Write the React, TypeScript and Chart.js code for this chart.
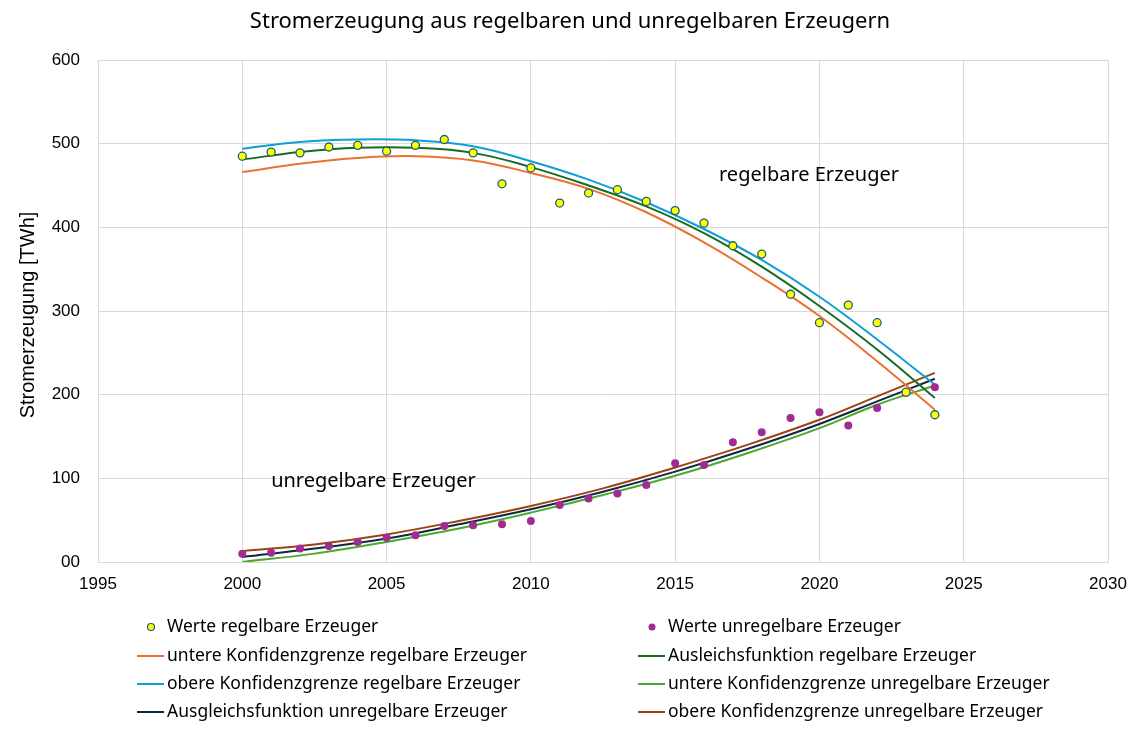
import React, { useEffect, useRef } from "react";
import { Chart, registerables } from "chart.js";

Chart.register(...registerables);

// ---- data ----
const years = [2000, 2001, 2002, 2003, 2004, 2005, 2006, 2007, 2008, 2009, 2010, 2011, 2012, 2013, 2014, 2015, 2016, 2017, 2018, 2019, 2020, 2021, 2022, 2023, 2024];
const werteRegelbar = [485, 490, 489, 496, 498, 491, 498, 505, 489, 452, 471, 429, 441, 445, 431, 420, 405, 378, 368, 320, 286, 307, 286, 203, 176];
const werteUnregelbar = [10, 11, 16, 19, 24, 29, 32, 43, 44, 45, 49, 68, 76, 82, 92, 118, 116, 143, 155, 172, 179, 163, 184, 202, 209];

const fitYearsRegel = [2000, 2002, 2004, 2006, 2008, 2010, 2012, 2014, 2016, 2018, 2020, 2022, 2024];
const untereRegel = [466, 476, 483, 485, 480, 465, 446, 418, 382, 340, 294, 240, 182];
const ausgleichRegel = [481, 490, 495, 495, 489, 472, 450, 425, 393, 353, 306, 254, 196];
const obereRegel = [494, 502, 505, 504, 497, 479, 457, 430, 398, 361, 317, 266, 212];

const fitYearsUnregel = [2000, 2002.5, 2005, 2007.5, 2010, 2012.5, 2015, 2017.5, 2020, 2022, 2024];
const untereUnregel = [0, 10, 24, 40, 59, 80, 103, 130, 160, 188, 211];
const ausgleichUnregel = [6, 16, 28, 45, 63, 84, 108, 135, 165, 192, 219];
const obereUnregel = [13, 21, 33, 49, 67, 88, 113, 140, 170, 198, 226];

const xTickValues = [1995, 2000, 2005, 2010, 2015, 2020, 2025, 2030];
const yTickLabels = ["00", "100", "200", "300", "400", "500", "600"];

const titleText = "Stromerzeugung aus regelbaren und unregelbaren Erzeugern";
const yAxisTitle = "Stromerzeugung [TWh]";
const annotations = [
  { text: "regelbare Erzeuger", x: 2016.52, y: 462 },
  { text: "unregelbare Erzeuger", x: 2001.0, y: 96 },
];

const labelFont = '"Noto Sans", sans-serif';
const axisFont = '"Liberation Sans", Arial, sans-serif';

const toXY = (xs: number[], ys: number[]) => xs.map((x, i) => ({ x, y: ys[i] }));

const overlayPlugin = {
  id: "overlay",
  afterDraw(chart: any) {
    const ctx = chart.ctx as CanvasRenderingContext2D;
    const xs = chart.scales.x;
    const ys = chart.scales.y;
    ctx.save();
    // title
    ctx.fillStyle = "#000";
    ctx.font = `22px ${labelFont}`;
    ctx.textAlign = "center";
    ctx.textBaseline = "middle";
    ctx.fillText(titleText, 570, 22);
    // y axis title
    ctx.save();
    ctx.translate(28, 315);
    ctx.rotate(-Math.PI / 2);
    ctx.font = `20px ${axisFont}`;
    ctx.fillStyle = "#000";
    ctx.fillText(yAxisTitle, 0, 0);
    ctx.restore();
    // annotations
    ctx.font = `20px ${labelFont}`;
    ctx.textAlign = "left";
    ctx.fillStyle = "#000";
    for (const a of annotations) {
      ctx.fillText(a.text, xs.getPixelForValue(a.x), ys.getPixelForValue(a.y));
    }
    // legend: 2 columns, row-major
    const rowsY = [627, 656, 684, 712];
    const colX = [151, 652];
    ctx.font = `17.5px ${labelFont}`;
    chart.data.datasets.forEach((ds: any, i: number) => {
      const col = i % 2;
      const row = Math.floor(i / 2);
      const cx = colX[col];
      const cy = rowsY[row];
      if (ds.showLine) {
        ctx.strokeStyle = ds.borderColor;
        ctx.lineWidth = 2;
        ctx.beginPath();
        ctx.moveTo(cx - 14, cy);
        ctx.lineTo(cx + 13, cy);
        ctx.stroke();
      } else {
        ctx.beginPath();
        ctx.arc(cx, cy, 3.5, 0, Math.PI * 2);
        ctx.fillStyle = ds.backgroundColor;
        ctx.fill();
        if (ds.borderWidth > 0) {
          ctx.lineWidth = 1.2;
          ctx.strokeStyle = ds.borderColor;
          ctx.stroke();
        }
      }
      ctx.fillStyle = "#000";
      ctx.textAlign = "left";
      ctx.textBaseline = "middle";
      ctx.fillText(ds.label, cx + 16, cy);
    });
    ctx.restore();
  },
};

export default function App() {
  const ref = useRef<HTMLCanvasElement | null>(null);
  useEffect(() => {
    document.body.style.margin = "0";
    if (!ref.current) return;
    const lineDs = (label: string, xs: number[], ys: number[], color: string) => ({
      type: "scatter" as const,
      label,
      data: toXY(xs, ys),
      showLine: true,
      borderColor: color,
      backgroundColor: color,
      borderWidth: 2,
      pointRadius: 0,
      pointHoverRadius: 0,
      tension: 0.4,
    });
    const chart = new Chart(ref.current, {
      type: "scatter",
      data: {
        datasets: [
          {
            label: "Werte regelbare Erzeuger",
            data: toXY(years, werteRegelbar),
            showLine: false,
            backgroundColor: "#FFFF00",
            borderColor: "#156082",
            borderWidth: 1.3,
            pointRadius: 4,
            order: 0,
          },
          {
            label: "Werte unregelbare Erzeuger",
            data: toXY(years, werteUnregelbar),
            showLine: false,
            backgroundColor: "#A02B93",
            borderColor: "#A02B93",
            borderWidth: 0,
            pointRadius: 4,
            order: 0,
          },
          { ...lineDs("untere Konfidenzgrenze regelbare Erzeuger", fitYearsRegel, untereRegel, "#E97132"), order: 1 },
          { ...lineDs("Ausleichsfunktion regelbare Erzeuger", fitYearsRegel, ausgleichRegel, "#196B24"), order: 1 },
          { ...lineDs("obere Konfidenzgrenze regelbare Erzeuger", fitYearsRegel, obereRegel, "#0F9ED5"), order: 1 },
          { ...lineDs("untere Konfidenzgrenze unregelbare Erzeuger", fitYearsUnregel, untereUnregel, "#4EA72E"), order: 1 },
          { ...lineDs("Ausgleichsfunktion unregelbare Erzeuger", fitYearsUnregel, ausgleichUnregel, "#0E2841"), order: 1 },
          { ...lineDs("obere Konfidenzgrenze unregelbare Erzeuger", fitYearsUnregel, obereUnregel, "#9C4213"), order: 1 },
        ] as any,
      },
      options: {
        animation: false,
        responsive: false,
        devicePixelRatio: 1,
        layout: { padding: { left: 0, right: 32, top: 60, bottom: 138 } },
        plugins: {
          legend: { display: false },
          tooltip: { enabled: false },
          title: { display: false },
        },
        scales: {
          x: {
            type: "linear",
            min: 1995,
            max: 2030,
            afterBuildTicks: (axis: any) => {
              axis.ticks = xTickValues.map((v) => ({ value: v }));
            },
            afterFit: (axis: any) => {
              axis.height = 40;
            },
            ticks: {
              padding: 12,
              color: "#000",
              font: { family: axisFont, size: 17 },
              callback: (v: any) => String(v),
            },
            grid: { color: "#D9D9D9", drawTicks: false, lineWidth: 1 },
            border: { color: "#D9D9D9" },
          },
          y: {
            type: "linear",
            min: 0,
            max: 600,
            afterBuildTicks: (axis: any) => {
              axis.ticks = yTickLabels.map((_, i) => ({ value: i * 100 }));
            },
            afterFit: (axis: any) => {
              axis.width = 98;
            },
            ticks: {
              padding: 18,
              color: "#000",
              font: { family: axisFont, size: 17 },
              callback: (v: any) => yTickLabels[Math.round(Number(v) / 100)],
            },
            grid: { color: "#D9D9D9", drawTicks: false, lineWidth: 1 },
            border: { color: "#D9D9D9" },
          },
        },
      } as any,
      plugins: [overlayPlugin],
    });
    return () => chart.destroy();
  }, []);
  return <canvas ref={ref} width={1140} height={740} style={{ display: "block" }} />;
}
